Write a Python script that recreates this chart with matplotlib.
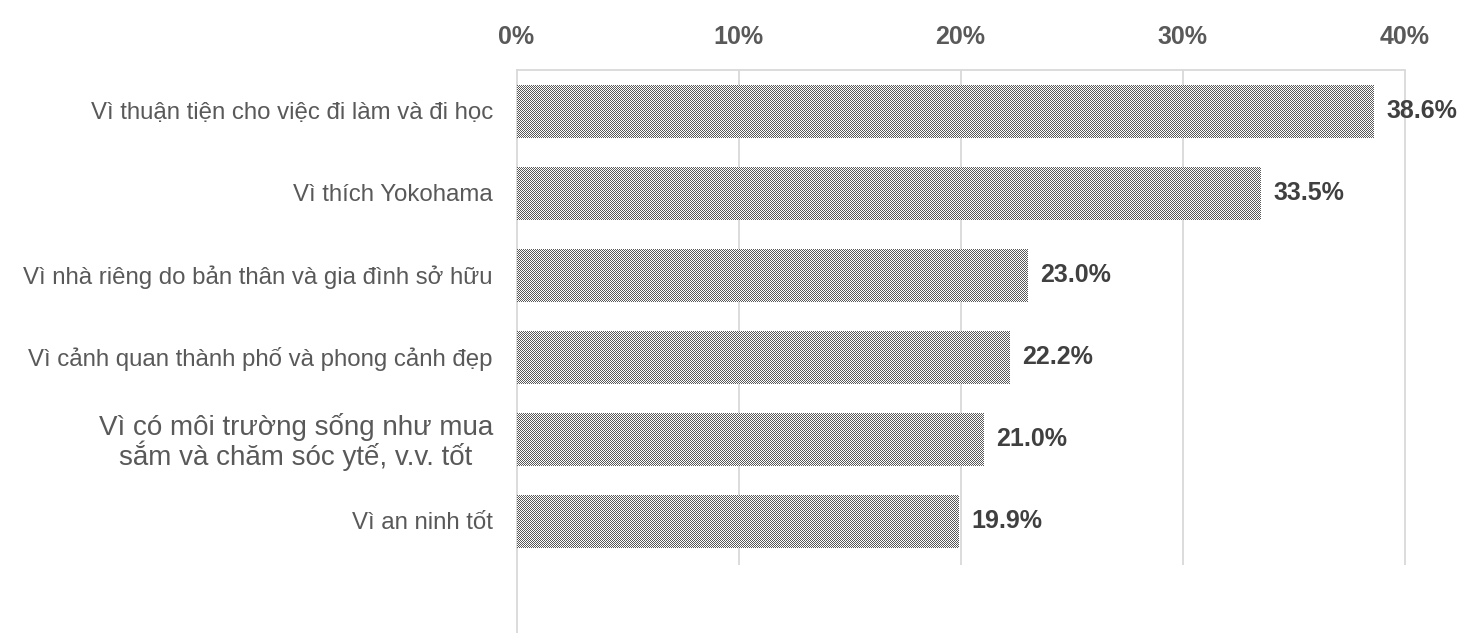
import numpy as np
import matplotlib
matplotlib.use("Agg")
import matplotlib.pyplot as plt

# Reasons for living in Yokohama (share of respondents, %)
categories = [
    "Vì thuận tiện cho việc đi làm và đi học",
    "Vì thích Yokohama",
    "Vì nhà riêng do bản thân và gia đình sở hữu",
    "Vì cảnh quan thành phố và phong cảnh đẹp",
    "Vì có môi trường sống như mua\nsắm và chăm sóc ytế, v.v. tốt",
    "Vì an ninh tốt",
]
values = [38.6, 33.5, 23.0, 22.2, 21.0, 19.9]
tick_values = [0, 10, 20, 30, 40]
tick_labels = ["0%", "10%", "20%", "30%", "40%"]
# labels set in a tighter (compact) style
compact_labels = [True, True, True, True, False, True]

W, H, DPI = 1468, 633, 100
TEXT = "#595959"
VALUE = "#404040"
GRID = "#d9d9d9"
DARK = np.array([0x59, 0x59, 0x59]) / 255.0
LIGHT = np.array([1.0, 1.0, 1.0])

plt.rcParams["font.family"] = ["Liberation Sans", "DejaVu Sans"]

fig = plt.figure(figsize=(W / DPI, H / DPI), dpi=DPI)
fig.patch.set_facecolor("white")
ax = fig.add_axes([516.5 / W, 0, 888 / W, 563 / H])

y = np.arange(len(categories))
bars = ax.barh(y, values, height=0.64, facecolor="none", edgecolor="none", zorder=3)

ax.set_xlim(0, 40)
ax.set_ylim(6.366, -0.5)

# vertical gridlines
ax.vlines(tick_values[1:], -0.5, 5.54, color=GRID, lw=1.3, zorder=1, clip_on=False)

for side in ("right", "bottom"):
    ax.spines[side].set_visible(False)
for side in ("left", "top"):
    ax.spines[side].set_color(GRID)
    ax.spines[side].set_linewidth(1.3)

# x axis on top
ax.xaxis.tick_top()
ax.set_xticks(tick_values)
ax.set_xticklabels(tick_labels, fontsize=18, fontweight="bold", color=TEXT)
ax.tick_params(axis="x", length=0, pad=15)

ax.set_yticks(y)
ax.set_yticklabels(categories, color=TEXT, linespacing=0.98)
ax.tick_params(axis="y", length=0, pad=17)
for lab, compact in zip(ax.get_yticklabels(), compact_labels):
    lab.set_fontsize(17.3 if compact else 20)
    lab.set_horizontalalignment("right")
    lab.set_multialignment("center")

# pixel checkerboard fill clipped to each bar
yy, xx = np.mgrid[0:H, 0:W]
checker = ((xx + yy) % 2 == 0)[..., None]
pattern = np.where(checker, DARK, LIGHT)
for bar in bars:
    im = fig.figimage(pattern, 0, 0, origin="upper", zorder=2)
    im.set_clip_path(bar)

# value labels
for yi, v in zip(y, values):
    ax.annotate(f"{v:.1f}%", (v, yi), xytext=(9.4, 0), textcoords="offset points",
                va="center", ha="left", fontsize=18, fontweight="bold", color=VALUE)

fig.savefig("out.png", dpi=DPI)
